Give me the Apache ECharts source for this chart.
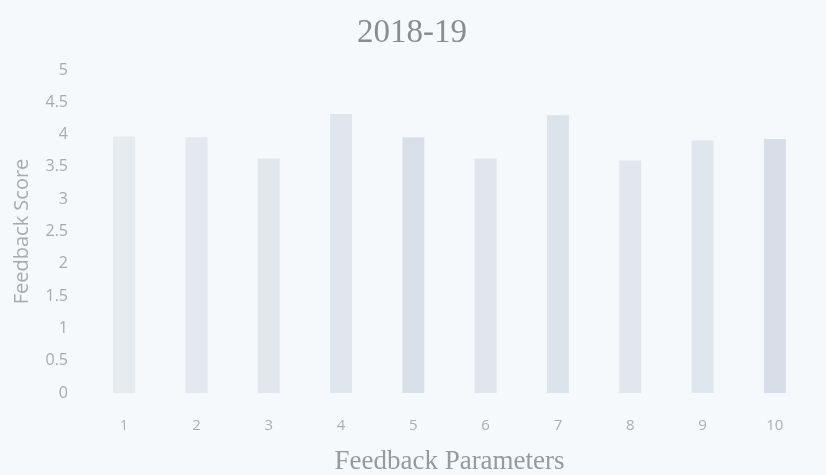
<!DOCTYPE html>
<html>
<head>
<meta charset="utf-8">
<script src="https://cdn.jsdelivr.net/npm/echarts@6/dist/echarts.min.js"></script>
<style>
html,body{margin:0;padding:0;background:#f6f9fb;}
#c{width:826px;height:475px;}
</style>
</head>
<body>
<div id="c"></div>
<script>
var title = "2018-19";
var categories = ["1","2","3","4","5","6","7","8","9","10"];
var scores = [3.97, 3.96, 3.63, 4.32, 3.96, 3.63, 4.30, 3.60, 3.91, 3.93];
var yTicks = [0, 0.5, 1, 1.5, 2, 2.5, 3, 3.5, 4, 4.5, 5];
var xName = "Feedback Parameters";
var yName = "Feedback Score";
var barColors = ["#e6ebf0","#e4e9ef","#e2e7ee","#e0e6ed","#d9dfe8","#e1e6ed","#dde3eb","#e2e7ee","#e0e6ed","#d8dee7"];

var chart = echarts.init(document.getElementById('c'), null, {renderer:'canvas'});
chart.setOption({
  backgroundColor: '#f6f9fb',
  animation: false,
  title: {
    text: title, left: 352, top: 12,
    textStyle: {fontFamily: 'Liberation Serif', fontWeight: 'normal', fontSize: 33, color: '#8a8d90'}
  },
  grid: {left: 88, right: 15, top: 70, bottom: 82, outerBoundsMode: 'none', containLabel: false},
  xAxis: {
    type: 'category', data: categories,
    name: xName, nameLocation: 'middle', nameGap: 55,
    nameTextStyle: {fontFamily: 'Liberation Serif', fontSize: 27, color: '#979a9d'},
    axisLine: {show: false}, axisTick: {show: false},
    axisLabel: {color: '#acafb2', fontFamily: 'Open Sans', fontSize: 15, margin: 25}
  },
  yAxis: {
    type: 'value', min: yTicks[0], max: yTicks[yTicks.length-1], interval: yTicks[1]-yTicks[0],
    name: yName, nameLocation: 'middle', nameGap: 56,
    nameTextStyle: {fontFamily: 'Open Sans', fontSize: 20, color: '#a8abae'},
    axisLine: {show: false}, axisTick: {show: false},
    splitLine: {show: false},
    axisLabel: {color: '#a8abae', fontFamily: 'Open Sans', fontSize: 16, margin: 20}
  },
  series: [{
    type: 'bar', data: scores, barWidth: 22,
    itemStyle: {color: function(p){ return barColors[p.dataIndex]; }}
  }]
});
</script>
</body>
</html>
